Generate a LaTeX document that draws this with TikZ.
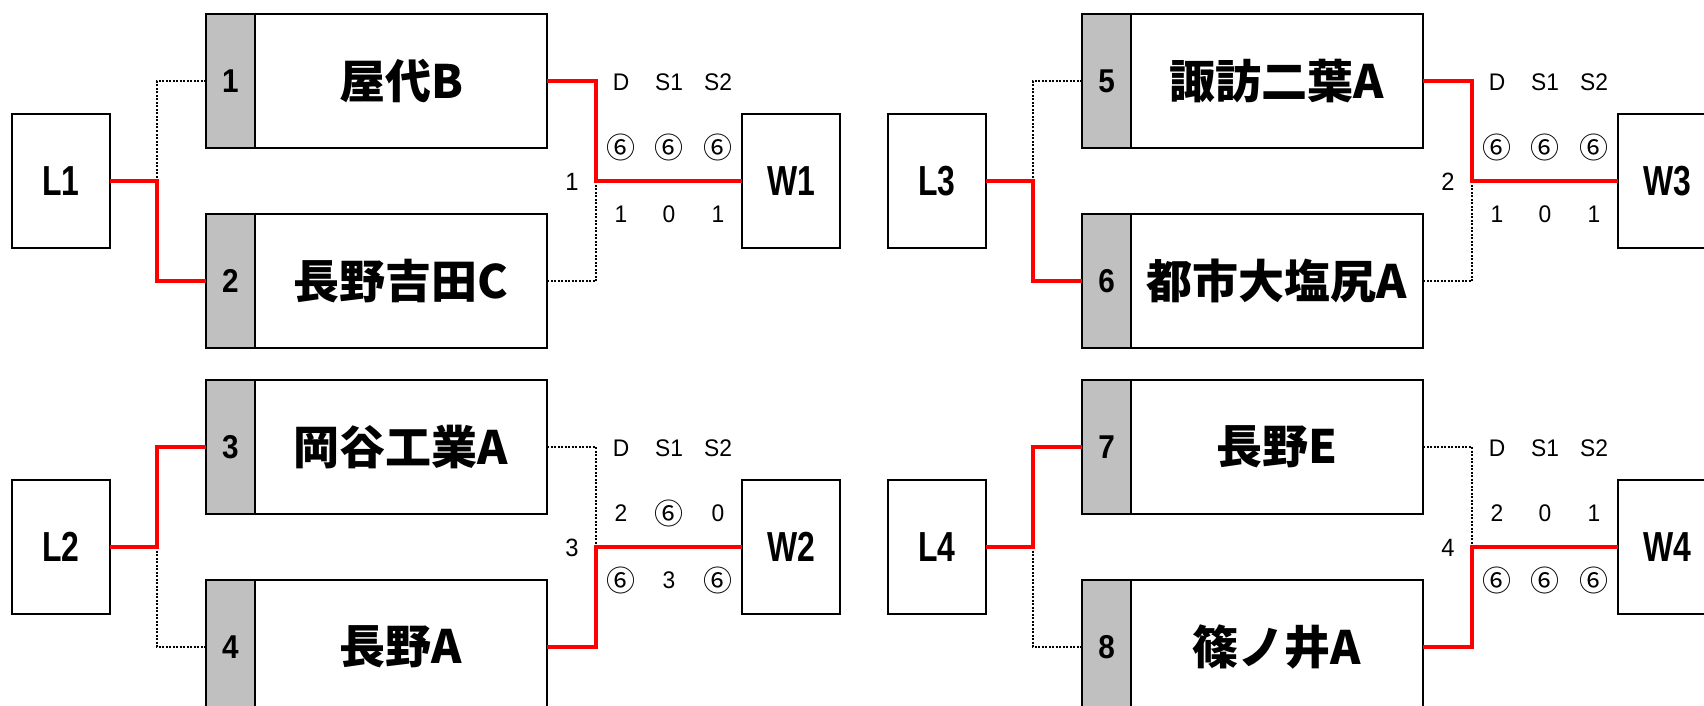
\documentclass[tikz,border=0pt]{standalone}
\usepackage{fontspec}
\newfontfamily\jp{Noto Sans CJK JP}
\newfontfamily\wlab{Liberation Sans}[FakeStretch=0.76]
\newfontfamily\nlab{Liberation Sans}[FakeStretch=0.9]
\newfontfamily\sml{Liberation Sans}[FakeStretch=0.95]
\definecolor{stripgray}{HTML}{C0C0C0}
\definecolor{winred}{HTML}{FF0000}
\tikzset{
  box/.style={draw=black, line width=1.8pt, inner sep=0pt, outer sep=0pt},
  lbox/.style={box, minimum width=98pt, minimum height=134pt, font=\wlab\bfseries\fontsize{42}{42}\selectfont},
  strip/.style={box, fill=stripgray, minimum width=49pt, minimum height=134pt, font=\nlab\bfseries\fontsize{33}{33}\selectfont},
  tname/.style={box, minimum width=292pt, minimum height=134pt, font=\jp\bfseries\fontsize{46}{46}\selectfont},
  win/.style={draw=winred, line width=4.5pt},
  lose/.style={draw=black, line width=1.7pt, dash pattern=on 2pt off 1.5pt},
  sc/.style={font=\sml\fontsize{24}{24}\selectfont, inner sep=0pt},
  mlab/.style={font=\sml\fontsize{25}{25}\selectfont, inner sep=0pt},
  circ/.style={font=\jp\fontsize{29}{29}\selectfont, inner sep=0pt},
}
\begin{document}
\begin{tikzpicture}[x=1pt, y=-1pt]
\useasboundingbox (0,0) rectangle (1704,706);
\clip (0,0) rectangle (1704,706);
\fill[white] (0,0) rectangle (1704,706);

% ---------- group a: top-left ----------
\begin{scope}
\node[lbox] (La) at (61,181) {L1};
\node[strip] (sa1) at (230.5,81) {1};
\node[tname] (ta1) at (401,81) {屋代B};
\node[strip] (sa2) at (230.5,281) {2};
\node[tname] (ta2) at (401,281) {長野吉田C};
\node[lbox] (Wa) at (791,181) {W1};
\draw[lose] ([xshift=47pt]La.east) |- (sa1.west);
\draw[win] (La.east) -- ++(47,0) |- (sa2.west);
\draw[lose] (ta2.east) -| ([xshift=-146pt]Wa.west);
\draw[win] (ta1.east) -- ++(49,0) |- (Wa.west);
\node[mlab] (ma) at (572,182) {1};
\node[sc] (ha1) at (621,82) {D};
\node[sc] (ha2) at (669,82) {S1};
\node[sc] (ha3) at (718,82) {S2};
\node[circ] (pa1) at (621,147) {⑥};
\node[circ] (pa2) at (669,147) {⑥};
\node[circ] (pa3) at (718,147) {⑥};
\node[sc] (qa1) at (621,214) {1};
\node[sc] (qa2) at (669,214) {0};
\node[sc] (qa3) at (718,214) {1};
\end{scope}

% ---------- group b: bottom-left ----------
\begin{scope}[shift={(0,366)}]
\node[lbox] (Lb) at (61,181) {L2};
\node[strip] (sb1) at (230.5,81) {3};
\node[tname] (tb1) at (401,81) {岡谷工業A};
\node[strip] (sb2) at (230.5,281) {4};
\node[tname] (tb2) at (401,281) {長野A};
\node[lbox] (Wb) at (791,181) {W2};
\draw[lose] ([xshift=47pt]Lb.east) |- (sb2.west);
\draw[win] (Lb.east) -- ++(47,0) |- (sb1.west);
\draw[lose] (tb1.east) -| ([xshift=-146pt]Wb.west);
\draw[win] (tb2.east) -- ++(49,0) |- (Wb.west);
\node[mlab] (mb) at (572,182) {3};
\node[sc] (hb1) at (621,82) {D};
\node[sc] (hb2) at (669,82) {S1};
\node[sc] (hb3) at (718,82) {S2};
\node[sc] (pb1) at (621,147) {2};
\node[circ] (pb2) at (669,147) {⑥};
\node[sc] (pb3) at (718,147) {0};
\node[circ] (qb1) at (621,214) {⑥};
\node[sc] (qb2) at (669,214) {3};
\node[circ] (qb3) at (718,214) {⑥};
\end{scope}

% ---------- group c: top-right ----------
\begin{scope}[shift={(876,0)}]
\node[lbox] (Lc) at (61,181) {L3};
\node[strip] (sc1) at (230.5,81) {5};
\node[tname] (tc1) at (401,81) {諏訪二葉A};
\node[strip] (sc2) at (230.5,281) {6};
\node[tname] (tc2) at (401,281) {都市大塩尻A};
\node[lbox] (Wc) at (791,181) {W3};
\draw[lose] ([xshift=47pt]Lc.east) |- (sc1.west);
\draw[win] (Lc.east) -- ++(47,0) |- (sc2.west);
\draw[lose] (tc2.east) -| ([xshift=-146pt]Wc.west);
\draw[win] (tc1.east) -- ++(49,0) |- (Wc.west);
\node[mlab] (mc) at (572,182) {2};
\node[sc] (hc1) at (621,82) {D};
\node[sc] (hc2) at (669,82) {S1};
\node[sc] (hc3) at (718,82) {S2};
\node[circ] (pc1) at (621,147) {⑥};
\node[circ] (pc2) at (669,147) {⑥};
\node[circ] (pc3) at (718,147) {⑥};
\node[sc] (qc1) at (621,214) {1};
\node[sc] (qc2) at (669,214) {0};
\node[sc] (qc3) at (718,214) {1};
\end{scope}

% ---------- group d: bottom-right ----------
\begin{scope}[shift={(876,366)}]
\node[lbox] (Ld) at (61,181) {L4};
\node[strip] (sd1) at (230.5,81) {7};
\node[tname] (td1) at (401,81) {長野E};
\node[strip] (sd2) at (230.5,281) {8};
\node[tname] (td2) at (401,281) {篠ノ井A};
\node[lbox] (Wd) at (791,181) {W4};
\draw[lose] ([xshift=47pt]Ld.east) |- (sd2.west);
\draw[win] (Ld.east) -- ++(47,0) |- (sd1.west);
\draw[lose] (td1.east) -| ([xshift=-146pt]Wd.west);
\draw[win] (td2.east) -- ++(49,0) |- (Wd.west);
\node[mlab] (md) at (572,182) {4};
\node[sc] (hd1) at (621,82) {D};
\node[sc] (hd2) at (669,82) {S1};
\node[sc] (hd3) at (718,82) {S2};
\node[sc] (pd1) at (621,147) {2};
\node[sc] (pd2) at (669,147) {0};
\node[sc] (pd3) at (718,147) {1};
\node[circ] (qd1) at (621,214) {⑥};
\node[circ] (qd2) at (669,214) {⑥};
\node[circ] (qd3) at (718,214) {⑥};
\end{scope}
\end{tikzpicture}
\end{document}
